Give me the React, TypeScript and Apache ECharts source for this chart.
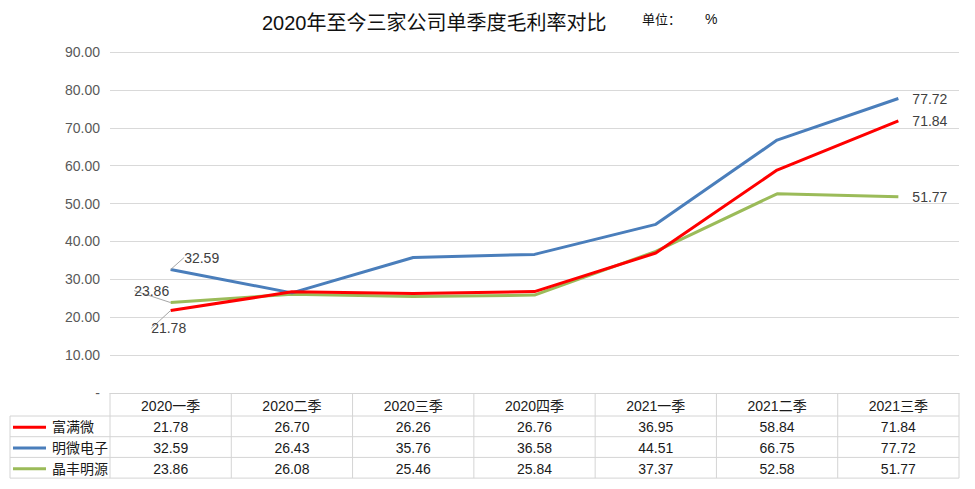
import React, { useEffect, useRef } from "react";
import * as echarts from "echarts";

const categories = ["2020一季", "2020二季", "2020三季", "2020四季", "2021一季", "2021二季", "2021三季"];
const seriesNames = ["富满微", "明微电子", "晶丰明源"];
const fuman = [21.78, 26.7, 26.26, 26.76, 36.95, 58.84, 71.84];
const mingwei = [32.59, 26.43, 35.76, 36.58, 44.51, 66.75, 77.72];
const jingfeng = [23.86, 26.08, 25.46, 25.84, 37.37, 52.58, 51.77];
const yTicks = [0, 10, 20, 30, 40, 50, 60, 70, 80, 90];

const COLORS = ["#FF0000", "#4A7EBB", "#9BBB59"];
const FONT = "'Liberation Sans', 'Noto Sans CJK SC', sans-serif";

export default function App() {
  const ref = useRef<HTMLDivElement>(null);
  useEffect(() => {
    if (!ref.current) return;
    const chart = echarts.init(ref.current, null, { renderer: "svg" });
    const W = 975;
    const gridL = 110, gridR = 16, gridT = 52, gridB = 96;
    const plotW = W - gridL - gridR;
    const colW = plotW / categories.length;
    const tableTop = 489 - gridB;
    const headerH = 23;
    const rowH = 20.7;
    const tableLeft = 10;
    const tableRight = W - gridR;
    const border = "#D4D4D4";
    const allData = [fuman, mingwei, jingfeng];

    const graphics: any[] = [];
    const rowLines = [tableTop + headerH, tableTop + headerH + rowH, tableTop + headerH + 2 * rowH, tableTop + headerH + 3 * rowH];
    rowLines.forEach((y) => {
      graphics.push({ type: "line", shape: { x1: tableLeft, y1: y, x2: tableRight, y2: y }, style: { stroke: border, lineWidth: 1 } });
    });
    const tableBottom = rowLines[3];
    graphics.push({ type: "line", shape: { x1: tableLeft, y1: rowLines[0], x2: tableLeft, y2: tableBottom }, style: { stroke: border, lineWidth: 1 } });
    for (let i = 0; i <= categories.length; i++) {
      const x = gridL + i * colW;
      graphics.push({ type: "line", shape: { x1: x, y1: tableTop, x2: x, y2: tableBottom }, style: { stroke: border, lineWidth: 1 } });
    }
    categories.forEach((c, i) => {
      graphics.push({
        type: "text",
        x: gridL + (i + 0.5) * colW,
        y: tableTop + headerH / 2 + 1,
        style: { text: c, fontSize: 14, fontFamily: FONT, fill: "#1A1A1A", align: "center", verticalAlign: "middle" },
      });
    });
    seriesNames.forEach((n, r) => {
      const cy = rowLines[r] + rowH / 2 + 1;
      graphics.push({ type: "line", shape: { x1: 13, y1: cy, x2: 46, y2: cy }, style: { stroke: COLORS[r], lineWidth: 3 } });
      graphics.push({
        type: "text",
        x: 52,
        y: cy,
        style: { text: n, fontSize: 14, fontFamily: FONT, fill: "#1A1A1A", align: "left", verticalAlign: "middle" },
      });
      allData[r].forEach((v, i) => {
        graphics.push({
          type: "text",
          x: gridL + (i + 0.5) * colW,
          y: cy,
          style: { text: v.toFixed(2), fontSize: 14, fontFamily: FONT, fill: "#1A1A1A", align: "center", verticalAlign: "middle" },
        });
      });
    });
    graphics.push({
      type: "text",
      x: 642,
      y: 19,
      style: { text: "单位：", fontSize: 13, fontFamily: FONT, fill: "#111", align: "left", verticalAlign: "middle" },
    });
    graphics.push({
      type: "text",
      x: 705,
      y: 19,
      style: { text: "%", fontSize: 14, fontFamily: FONT, fill: "#111", align: "left", verticalAlign: "middle" },
    });

    const firstLabel = [
      { position: "bottom", dx: -2, dy: 6 },
      { position: "top", dx: 31, dy: 0 },
      { position: "top", dx: -19, dy: 0 },
    ];

    const mkSeries = (idx: number, data: number[]) => ({
      name: seriesNames[idx],
      type: "line",
      data: data.map((v, i) => {
        if (i === 0) {
          return {
            value: v,
            label: { show: true, position: firstLabel[idx].position },
            labelLine: { show: true, lineStyle: { color: "#A6A6A6", width: 1 } },
          };
        }
        if (i === data.length - 1) {
          return { value: v, label: { show: true, position: "right", distance: 14 }, labelLine: { show: false } };
        }
        return v;
      }),
      symbol: "circle",
      symbolSize: 0,
      showSymbol: true,
      showAllSymbol: true,
      lineStyle: { color: COLORS[idx], width: 3 },
      itemStyle: { color: COLORS[idx] },
      label: {
        show: false,
        color: "#404040",
        fontSize: 14,
        fontFamily: FONT,
        formatter: (p: any) => Number(p.value).toFixed(2),
      },
      labelLine: { show: false },
      labelLayout: (p: any) => {
        if (p.dataIndex === 0) return { dx: firstLabel[idx].dx, dy: firstLabel[idx].dy };
        return {};
      },
      z: idx === 0 ? 4 : idx === 1 ? 3 : 2,
    });

    chart.setOption({
      animation: false,
      title: {
        text: "2020年至今三家公司单季度毛利率对比",
        left: 257,
        top: 8,
        textStyle: { fontSize: 20, fontWeight: "normal", fontFamily: FONT, color: "#111" },
      },
      grid: { left: gridL, right: gridR, top: gridT, bottom: gridB },
      xAxis: {
        type: "category",
        data: categories,
        boundaryGap: true,
        axisLine: { show: true, lineStyle: { color: border } },
        axisTick: { show: false },
        axisLabel: { show: false },
      },
      yAxis: {
        type: "value",
        min: yTicks[0],
        max: yTicks[yTicks.length - 1],
        interval: 10,
        axisLine: { show: false },
        axisTick: { show: false },
        axisLabel: {
          color: "#595959",
          fontSize: 14,
          fontFamily: FONT,
          margin: 10,
          formatter: (v: number) => (v === 0 ? "-" : v.toFixed(2)),
        },
        splitLine: { lineStyle: { color: "#D9D9D9", width: 1 } },
      },
      series: [mkSeries(0, fuman), mkSeries(1, mingwei), mkSeries(2, jingfeng)],
      graphic: graphics,
    });
    return () => chart.dispose();
  }, []);
  return <div ref={ref} style={{ width: 975, height: 489, position: "absolute", left: 0, top: 0 }} />;
}
